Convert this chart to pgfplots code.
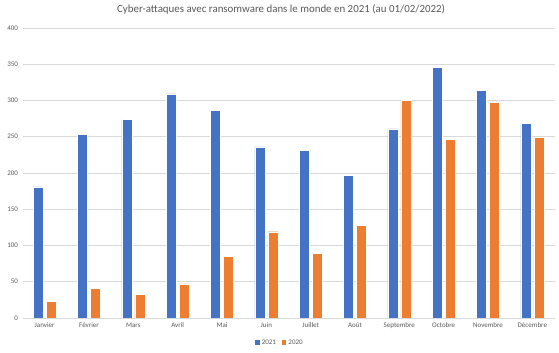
\documentclass[border=0pt]{standalone}
\usepackage{pgfplots}
\pgfplotsset{compat=1.18}
\usepackage{fontspec}
\setmainfont{Carlito}
\definecolor{cblue}{HTML}{4472C4}
\definecolor{corange}{HTML}{ED7D31}
\definecolor{cgrid}{HTML}{D9D9D9}
\definecolor{ctext}{HTML}{595959}
\begin{document}
\begin{tikzpicture}[x=1pt,y=1pt]
\useasboundingbox (0,0) rectangle (559,353);
\fill[white] (0,0) rectangle (559,353);
\begin{axis}[
  at={(22.5pt,35pt)}, anchor=south west,
  scale only axis, width=532pt, height=290pt,
  ybar=3pt, bar width=10pt,
  xmin=-0.5, xmax=11.5, ymin=0, ymax=400,
  xtick=data,
  xticklabels={Janvier,Février,Mars,Avril,Mai,Juin,Juillet,Août,Septembre,Octobre,Novembre,Décembre},
  ytick={0,50,...,400},
  /pgf/number format/assume math mode=true,
  ymajorgrids, grid style={cgrid, line width=0.6pt},
  axis line style={draw=none},
  major tick length=0pt,
  tick label style={font=\fontsize{7}{8}\selectfont, text=ctext},
  yticklabel style={xshift=-1pt},
  xticklabel style={yshift=-1pt},
  title={Cyber-attaques avec ransomware dans le monde en 2021 (au 01/02/2022)},
  title style={font=\fontsize{10.9}{13}\selectfont, text=ctext, at={(0.486,1)}, anchor=south, yshift=4pt},
  legend columns=2,
  legend style={at={(0.484,-0.086)}, anchor=center, draw=none, fill=none,
    font=\fontsize{7}{8}\selectfont, text=ctext,
    /tikz/every even column/.append style={column sep=4pt}},
  legend image code/.code={\path[#1,draw=none] (0pt,-2pt) rectangle (4.5pt,2.5pt);},
]
\addplot[fill=cblue, draw=white, line width=0.4pt] coordinates {
(0,181) (1,253) (2,274) (3,309) (4,286) (5,236) (6,231) (7,197) (8,261) (9,346) (10,314) (11,268)};
\addplot[fill=corange, draw=white, line width=0.4pt] coordinates {
(0,23) (1,41) (2,33) (3,47) (4,85) (5,119) (6,89) (7,128) (8,300) (9,246) (10,298) (11,249)};
\legend{2021,2020}
\end{axis}
\end{tikzpicture}
\end{document}
